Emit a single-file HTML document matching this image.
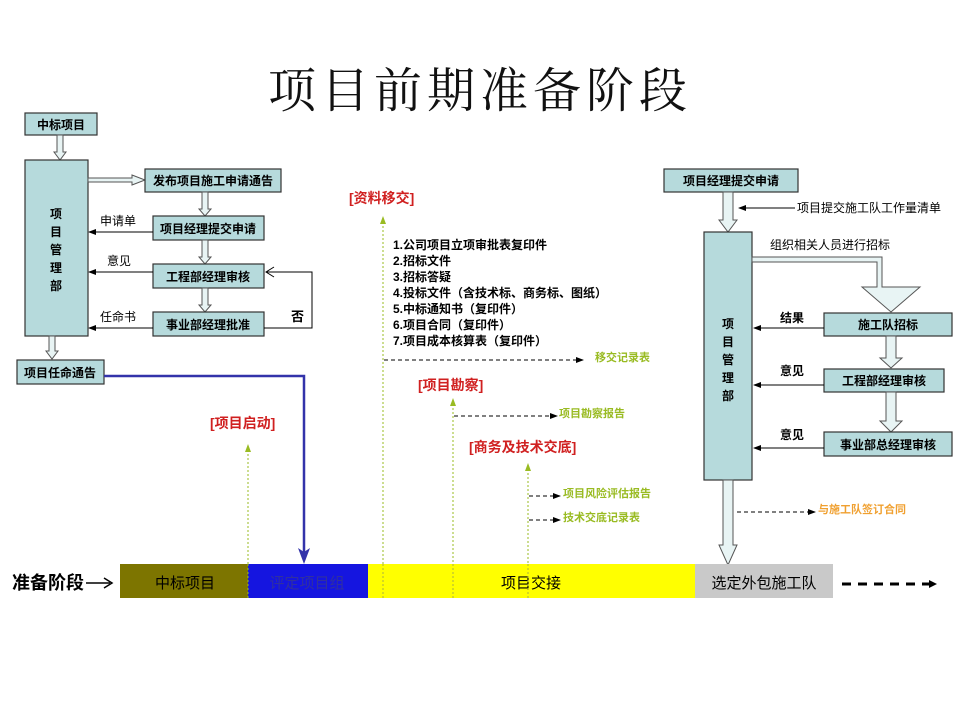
<!DOCTYPE html>
<html><head><meta charset="utf-8"><style>
html,body{margin:0;padding:0;background:#fff;}
svg{display:block;}
text{font-family:"Liberation Sans","Noto Sans CJK SC",sans-serif;}
.b{font-weight:bold;font-size:12px;fill:#000;}
.n{font-size:12px;fill:#000;}
.r{font-size:14px;fill:#d02020;font-weight:bold;}
.g{font-size:11px;fill:#99bb22;font-weight:bold;}
.box{fill:#b6dadc;stroke:#333;stroke-width:1.2;}
.ha{fill:#e8f4f4;stroke:#555;stroke-width:1;}
.gt{fill:#99bb22;}
</style></head><body>
<svg width="960" height="720" viewBox="0 0 960 720" xmlns="http://www.w3.org/2000/svg">
<defs>
<marker id="ah" markerWidth="8" markerHeight="8" refX="7" refY="4" orient="auto" markerUnits="userSpaceOnUse"><path d="M0,1 L8,4 L0,7 z" fill="#000"/></marker>
</defs>
<text x="480" y="107" text-anchor="middle" style="font-family:'Liberation Serif','Noto Serif CJK SC',serif;font-size:48px;letter-spacing:5px;fill:#111;">项目前期准备阶段</text>

<!-- left section -->
<rect class="box" x="25" y="113" width="72" height="22"/>
<text class="b" x="61" y="129" text-anchor="middle">中标项目</text>
<path class="ha" d="M57,135 V152 H54 L60,160 L66,152 H63 V135 Z"/>
<rect class="box" x="25" y="160" width="63" height="176"/>
<text class="b" x="56" y="218" text-anchor="middle">项</text>
<text class="b" x="56" y="236" text-anchor="middle">目</text>
<text class="b" x="56" y="254" text-anchor="middle">管</text>
<text class="b" x="56" y="272" text-anchor="middle">理</text>
<text class="b" x="56" y="290" text-anchor="middle">部</text>
<path class="ha" d="M88,178 H132 V175 L145,180 L132,185 V182 H88 Z"/>
<rect class="box" x="145" y="169" width="136" height="23"/>
<text class="b" x="213" y="185" text-anchor="middle">发布项目施工申请通告</text>
<path class="ha" d="M202,192 V209 H199 L205,216 L211,209 H208 V192 Z"/>
<rect class="box" x="153" y="216" width="111" height="24"/>
<text class="b" x="208" y="233" text-anchor="middle">项目经理提交申请</text>
<path class="ha" d="M202,240 V257 H199 L205,264 L211,257 H208 V240 Z"/>
<rect class="box" x="153" y="264" width="111" height="24"/>
<text class="b" x="208" y="281" text-anchor="middle">工程部经理审核</text>
<path class="ha" d="M202,288 V305 H199 L205,312 L211,305 H208 V288 Z"/>
<rect class="box" x="153" y="312" width="111" height="24"/>
<text class="b" x="208" y="329" text-anchor="middle">事业部经理批准</text>
<line x1="153" y1="232" x2="89" y2="232" stroke="#000" marker-end="url(#ah)"/>
<line x1="153" y1="272" x2="89" y2="272" stroke="#000" marker-end="url(#ah)"/>
<line x1="153" y1="328" x2="89" y2="328" stroke="#000" marker-end="url(#ah)"/>
<text class="n" x="100" y="225">申请单</text>
<text class="n" x="107" y="265">意见</text>
<text class="n" x="100" y="321">任命书</text>
<path d="M264,328 H312 V272 H266" fill="none" stroke="#000"/>
<path d="M274,267 L266,272 L274,277" fill="none" stroke="#000"/>
<text class="b" x="291" y="321" style="font-size:13px">否</text>
<path class="ha" d="M49,336 V351 H46 L52,359 L58,351 H55 V336 Z"/>
<rect class="box" x="17" y="360" width="87" height="24"/>
<text class="b" x="60" y="377" text-anchor="middle">项目任命通告</text>
<path d="M104,376 H304 V552" fill="none" stroke="#3333aa" stroke-width="2.5"/>
<path d="M298,548 L304,564 L310,548 L304,552 z" fill="#3333aa"/>

<!-- middle -->
<text class="r" x="210" y="428">[项目启动]</text>
<line x1="248" y1="450" x2="248" y2="564" stroke="#99bb22" stroke-dasharray="2,2"/>
<path class="gt" d="M245,452 L248,444 L251,452 z"/>
<text class="r" x="349" y="203">[资料移交]</text>
<line x1="383" y1="222" x2="383" y2="564" stroke="#99bb22" stroke-dasharray="2,2"/>
<path class="gt" d="M380,224 L383,216 L386,224 z"/>
<text class="b" x="393" y="249">1.公司项目立项审批表复印件</text>
<text class="b" x="393" y="265">2.招标文件</text>
<text class="b" x="393" y="281">3.招标答疑</text>
<text class="b" x="393" y="297">4.投标文件（含技术标、商务标、图纸）</text>
<text class="b" x="393" y="313">5.中标通知书（复印件）</text>
<text class="b" x="393" y="329">6.项目合同（复印件）</text>
<text class="b" x="393" y="345">7.项目成本核算表（复印件）</text>
<line x1="384" y1="360" x2="583" y2="360" stroke="#000" stroke-dasharray="4,3" marker-end="url(#ah)"/>
<text class="g" x="595" y="361">移交记录表</text>
<text class="r" x="418" y="390">[项目勘察]</text>
<line x1="453" y1="404" x2="453" y2="564" stroke="#99bb22" stroke-dasharray="2,2"/>
<path class="gt" d="M450,406 L453,398 L456,406 z"/>
<line x1="454" y1="416" x2="557" y2="416" stroke="#000" stroke-dasharray="4,3" marker-end="url(#ah)"/>
<text class="g" x="559" y="417">项目勘察报告</text>
<text class="r" x="469" y="452">[商务及技术交底]</text>
<line x1="528" y1="469" x2="528" y2="564" stroke="#99bb22" stroke-dasharray="2,2"/>
<path class="gt" d="M525,471 L528,463 L531,471 z"/>
<line x1="529" y1="496" x2="560" y2="496" stroke="#000" stroke-dasharray="4,3" marker-end="url(#ah)"/>
<text class="g" x="563" y="497">项目风险评估报告</text>
<line x1="529" y1="520" x2="560" y2="520" stroke="#000" stroke-dasharray="4,3" marker-end="url(#ah)"/>
<text class="g" x="563" y="521">技术交底记录表</text>

<!-- right -->
<rect class="box" x="664" y="169" width="134" height="23"/>
<text class="b" x="731" y="185" text-anchor="middle">项目经理提交申请</text>
<path class="ha" d="M723,192 V220 H719 L728,232 L737,220 H733 V192 Z"/>
<line x1="795" y1="208" x2="739" y2="208" stroke="#000" marker-end="url(#ah)"/>
<text class="n" x="797" y="212">项目提交施工队工作量清单</text>
<rect class="box" x="704" y="232" width="48" height="248"/>
<text class="b" x="728" y="328" text-anchor="middle">项</text>
<text class="b" x="728" y="346" text-anchor="middle">目</text>
<text class="b" x="728" y="364" text-anchor="middle">管</text>
<text class="b" x="728" y="382" text-anchor="middle">理</text>
<text class="b" x="728" y="400" text-anchor="middle">部</text>
<path class="ha" d="M723,480 V545 H719 L728,565 L737,545 H733 V480 Z"/>
<text class="n" x="770" y="249">组织相关人员进行招标</text>
<path class="ha" d="M752,257 H882 V287 H920 L891,312 L862,287 H877 V262 H752 Z"/>
<rect class="box" x="824" y="313" width="128" height="23"/>
<text class="b" x="888" y="329" text-anchor="middle">施工队招标</text>
<path class="ha" d="M886,336 V358 H880 L891,368 L902,358 H896 V336 Z"/>
<rect class="box" x="824" y="369" width="120" height="23"/>
<text class="b" x="884" y="385" text-anchor="middle">工程部经理审核</text>
<path class="ha" d="M886,392 V421 H880 L891,432 L902,421 H896 V392 Z"/>
<rect class="box" x="824" y="432" width="128" height="24"/>
<text class="b" x="888" y="449" text-anchor="middle">事业部总经理审核</text>
<line x1="824" y1="328" x2="754" y2="328" stroke="#000" marker-end="url(#ah)"/>
<line x1="824" y1="385" x2="754" y2="385" stroke="#000" marker-end="url(#ah)"/>
<line x1="824" y1="448" x2="754" y2="448" stroke="#000" marker-end="url(#ah)"/>
<text class="b" x="780" y="322">结果</text>
<text class="b" x="780" y="375">意见</text>
<text class="b" x="780" y="439">意见</text>
<line x1="737" y1="512" x2="815" y2="512" stroke="#000" stroke-dasharray="4,3" marker-end="url(#ah)"/>
<text x="818" y="513" style="font-size:11px;font-weight:bold;fill:#f0a030">与施工队签订合同</text>

<!-- bottom bar -->
<text x="12" y="589" style="font-size:18px;font-weight:bold;fill:#000">准备阶段</text>
<path d="M86,583 H110" stroke="#000" stroke-width="1.5"/>
<path d="M104,578 L112,583 L104,588" fill="none" stroke="#000" stroke-width="1.5"/>
<rect x="120" y="564" width="128" height="34" fill="#7d7500"/>
<rect x="248" y="564" width="120" height="34" fill="#1515e0"/>
<rect x="368" y="564" width="327" height="34" fill="#ffff00"/>
<rect x="695" y="564" width="138" height="34" fill="#c9c9c9"/>
<text x="185" y="588" text-anchor="middle" style="font-size:15px;fill:#000">中标项目</text>
<text x="307" y="588" text-anchor="middle" style="font-size:15px;fill:#3030a0">评定项目组</text>
<text x="531" y="588" text-anchor="middle" style="font-size:15px;fill:#000">项目交接</text>
<text x="764" y="588" text-anchor="middle" style="font-size:15px;fill:#000">选定外包施工队</text>
<line x1="248" y1="564" x2="248" y2="598" stroke="#99bb22" stroke-dasharray="2,2"/>
<line x1="383" y1="564" x2="383" y2="598" stroke="#aab044" stroke-dasharray="2,2"/>
<line x1="453" y1="564" x2="453" y2="598" stroke="#aab044" stroke-dasharray="2,2"/>
<line x1="528" y1="564" x2="528" y2="598" stroke="#aab044" stroke-dasharray="2,2"/>
<line x1="842" y1="584" x2="930" y2="584" stroke="#000" stroke-width="3" stroke-dasharray="9,7"/>
<path d="M929,580 L937,584 L929,588 z" fill="#000"/>
</svg>
</body></html>
